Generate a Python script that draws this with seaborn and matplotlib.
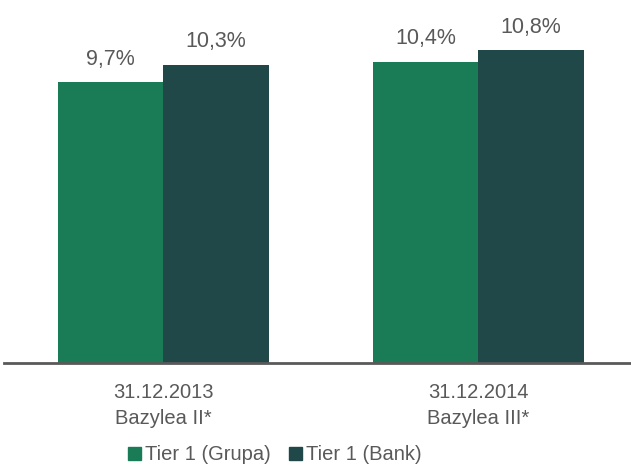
import pandas as pd
import matplotlib.pyplot as plt
import seaborn as sns

# Chart data
categories = ['31.12.2013\nBazylea II*', '31.12.2014\nBazylea III*']
series = ['Tier 1 (Grupa)', 'Tier 1 (Bank)']
grupa_values = [9.7, 10.4]
bank_values = [10.3, 10.8]
colors = ['#1a7b57', '#204849']
text_color = '#595959'

df = pd.DataFrame({
    'Okres': categories * 2,
    'Seria': [series[0]] * 2 + [series[1]] * 2,
    'Wartosc': grupa_values + bank_values,
})

sns.set_style('white')
plt.rcParams['font.family'] = ['Liberation Sans', 'DejaVu Sans']

fig = plt.figure(figsize=(6.31, 4.67), dpi=100)
ax = fig.add_axes([4 / 631, 104.5 / 467, 627 / 631, 362.5 / 467])

sns.barplot(data=df, x='Okres', y='Wartosc', hue='Seria', palette=colors,
            width=0.67, linewidth=0, saturation=1, ax=ax)

for container in ax.containers:
    labels = [f'{v:.1f}%'.replace('.', ',') for v in container.datavalues]
    ax.bar_label(container, labels=labels, padding=9, fontsize=15.5, color=text_color)

ax.set_ylim(0, 12.54)
ax.set_xlim(-0.506, 1.485)
ax.set_yticks([])
ax.set_xlabel('')
ax.set_ylabel('')
for side in ['top', 'right', 'left']:
    ax.spines[side].set_visible(False)
ax.spines['bottom'].set_color(text_color)
ax.spines['bottom'].set_linewidth(2)
ax.tick_params(axis='x', length=0, pad=15, labelsize=14.5, labelcolor=text_color)
for t in ax.get_xticklabels():
    t.set_linespacing(1.45)

ax.legend_.remove()
handles = [plt.Rectangle((0, 0), 1, 1, color=c) for c in colors]
fig.legend(handles, series, loc='center', bbox_to_anchor=(0.435, 0.026),
           ncol=2, frameon=False, fontsize=14.5, labelcolor=text_color,
           handlelength=0.65, handleheight=0.65, handletextpad=0.2,
           columnspacing=0.9, borderpad=0)

fig.savefig('out.png', dpi=100)
